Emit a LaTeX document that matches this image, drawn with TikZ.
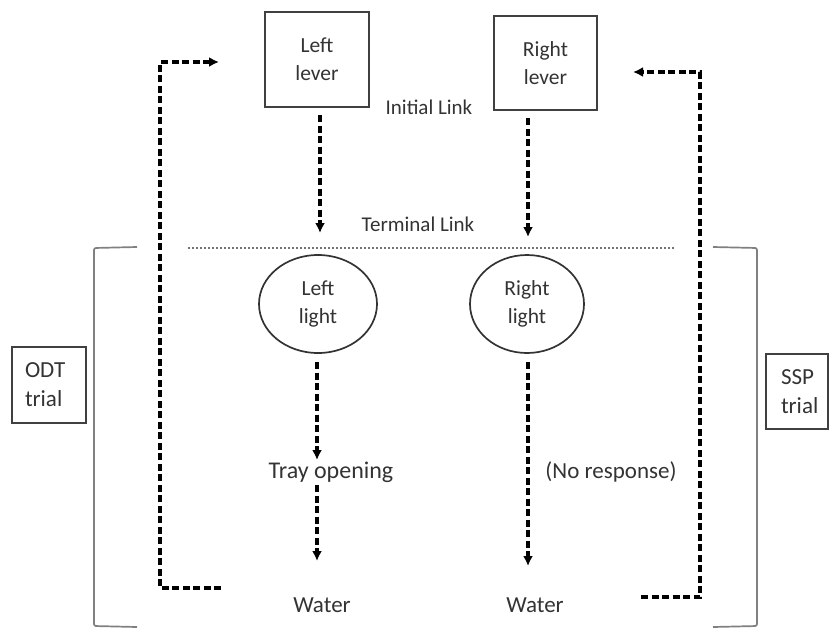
\documentclass[tikz,border=0pt]{standalone}
\usepackage{fontspec}
\setmainfont{Carlito}
\usetikzlibrary{arrows.meta,shapes.geometric}
\begin{document}
\begin{tikzpicture}[x=1pt,y=-1pt,
  txt/.style={text=black!80,inner sep=0pt},
  box/.style={draw=black!75,line width=1.7pt,align=center,text=black!80,font=\fontsize{21.5}{28}\selectfont},
  oval/.style={draw=black!80,line width=1.7pt,ellipse,align=center,text=black!80,font=\fontsize{21.5}{28}\selectfont,inner sep=0pt},
  side/.style={draw=black!75,line width=1.4pt,align=left,text=black!80,font=\fontsize{23}{29}\selectfont,inner sep=0pt},
  flow/.style={line width=3.2pt,dash pattern=on 7pt off 3.5pt,-{Latex[length=10pt,width=10pt]}},
  brack/.style={draw=black!50,line width=1.7pt,rounded corners=2pt}]
\useasboundingbox (0,0) rectangle (830,630);
% levers
\node[box,minimum width=104pt,minimum height=95pt] (llever) at (317,59.5) {Left\\lever};
\node[box,minimum width=103pt,minimum height=94pt] (rlever) at (545.5,63) {Right\\lever};
\node[txt,font=\fontsize{21}{25}\selectfont] (initial) at (429,107) {Initial Link};
\node[txt,font=\fontsize{21}{25}\selectfont] (terminal) at (418,224) {Terminal Link};
% dotted separator
\coordinate (dotL) at (188,248);
\coordinate (dotR) at (675,248);
\draw[black!55,line width=1.6pt,dash pattern=on 2pt off 2pt] (dotL) -- (dotR);
% lights
\node[oval,minimum width=118pt,minimum height=98pt] (llight) at (318,304) {Left\\light};
\node[oval,minimum width=114pt,minimum height=98pt] (rlight) at (527,304) {Right\\light};
% labels
\node[txt,font=\fontsize{24}{28}\selectfont] (tray) at (331,472) {Tray opening};
\node[txt,font=\fontsize{23}{28}\selectfont] (noresp) at (611,472) {(No response)};
\node[txt,font=\fontsize{23}{28}\selectfont] (waterL) at (322,605) {Water};
\node[txt,font=\fontsize{23}{28}\selectfont] (waterR) at (535,605) {Water};
% side boxes
\node[side,minimum width=74pt,minimum height=76pt,text width=48pt] (odt) at (49,385) {ODT\\trial};
\node[side,minimum width=62pt,minimum height=75pt,text width=32pt] (ssp) at (797,391.5) {SSP\\trial};
% brackets
\draw[brack] (137,247) -- (94,248) -- (94,626) -- (137,627);
\draw[brack] (713,247) -- (757,248) -- (757,626) -- (713,627);
% arrow endpoints
\coordinate (a1s) at (320,115); \coordinate (a1e) at (320,233);
\coordinate (a2s) at (528,118); \coordinate (a2e) at (528,237);
\coordinate (a3s) at (317,362); \coordinate (a3e) at (317,460);
\coordinate (a4s) at (317,485); \coordinate (a4e) at (317,561);
\coordinate (a5s) at (528,362); \coordinate (a5e) at (528,566);
\coordinate (lbs) at (221,588); \coordinate (lbc) at (160,588); \coordinate (ltc) at (160,62); \coordinate (lte) at (219,62);
\coordinate (rbs) at (641,597); \coordinate (rbc) at (700,597); \coordinate (rtc) at (700,72); \coordinate (rte) at (633,72);
\draw[flow] (a1s) -- (a1e);
\draw[flow] (a2s) -- (a2e);
\draw[flow] (a3s) -- (a3e);
\draw[flow] (a4s) -- (a4e);
\draw[flow] (a5s) -- (a5e);
\draw[flow] (lbs) -- (lbc) -- (ltc) -- (lte);
\draw[flow] (rbs) -- (rbc) -- (rtc) -- (rte);
\end{tikzpicture}
\end{document}
